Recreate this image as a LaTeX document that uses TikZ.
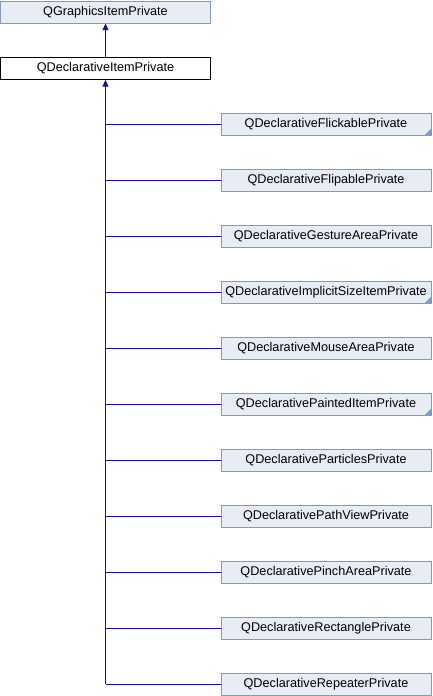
\documentclass[tikz,border=0pt]{standalone}
\usepackage{fontspec}
\setmainfont{Liberation Sans}
\usetikzlibrary{arrows.meta}
\definecolor{boxfill}{HTML}{E8ECF5}
\definecolor{boxline}{HTML}{8497C6}
\definecolor{edgecol}{HTML}{101098}
\begin{document}
\begin{tikzpicture}[x=0.75pt,y=-0.75pt,
  cls/.style={draw=boxline,fill=boxfill,line width=0.75pt,minimum width=210*0.75pt,minimum height=22*0.75pt,inner sep=0pt,font=\fontsize{9.5pt}{11pt}\selectfont,anchor=center},
  cur/.style={cls,draw=black,fill=white},
  edge/.style={draw=edgecol,line width=0.75pt},
  tip/.style={-{Triangle[length=5pt,width=4.5pt]}}]
\useasboundingbox (0,0) rectangle (432,696);
\node[cls] (g) at (105.5,12) {QGraphicsItemPrivate};
\node[cur] (d) at (105.5,68.5) {QDeclarativeItemPrivate};
\draw[edge,tip] (d.north) -- (g.south);
\foreach \n/\t/\yy in {
  a/QDeclarativeFlickablePrivate/124,
  b/QDeclarativeFlipablePrivate/180,
  c/QDeclarativeGestureAreaPrivate/236,
  e/QDeclarativeImplicitSizeItemPrivate/292,
  f/QDeclarativeMouseAreaPrivate/348,
  h/QDeclarativePaintedItemPrivate/404,
  i/QDeclarativeParticlesPrivate/460,
  j/QDeclarativePathViewPrivate/516,
  k/QDeclarativePinchAreaPrivate/572,
  l/QDeclarativeRectanglePrivate/628,
  m/QDeclarativeRepeaterPrivate/684}{
  \node[cls] (\n) at (326,\yy) {\t};
}
\foreach \n in {a,e,h}{
  \fill[boxline] ([xshift=-0.4pt,yshift=0.4pt]\n.south east) -- ++(0,6*0.75pt) -- ++(-6*0.75pt,-6*0.75pt) -- cycle;
}
\coordinate (corner) at (d.south |- m.west);
\draw[edge,tip] (corner) -- (d.south);
\foreach \n in {a,b,c,e,f,h,i,j,k,l,m}{
  \draw[edge] (\n.west) -- (d.south |- \n.west);
}
\end{tikzpicture}
\end{document}
